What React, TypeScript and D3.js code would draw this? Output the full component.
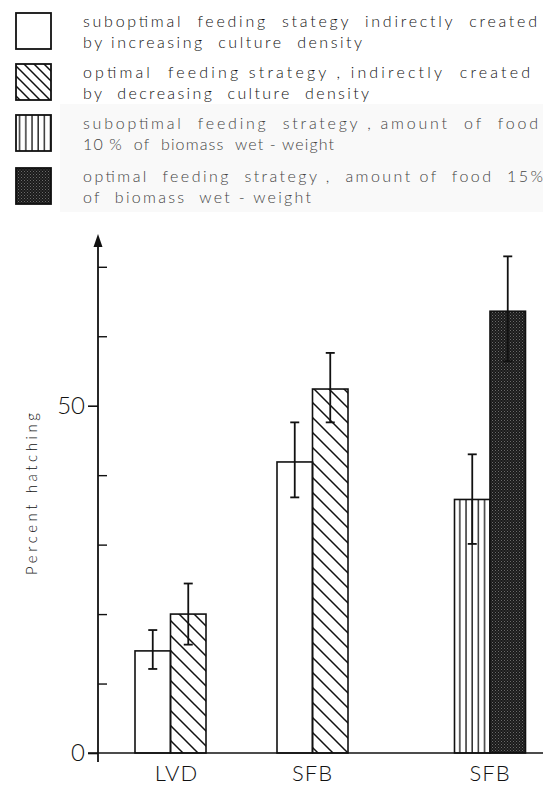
import React, { useEffect, useRef } from 'react';
import * as d3 from 'd3';

const W = 543;
const H = 787;

const categories = ['LVD', 'SFB', 'SFB'];
const firstKind = ['open', 'open', 'vertical'];
const secondKind = ['hatch', 'hatch', 'dark'];
const firstValue = [14.7, 41.9, 36.5];
const firstLow = [12.1, 36.8, 30.1];
const firstHigh = [17.7, 47.6, 43.0];
const secondValue = [20.0, 52.4, 63.6];
const secondLow = [15.6, 47.6, 56.4];
const secondHigh = [24.4, 57.6, 71.5];

const yLabeledTicks = [0, 50];
const yMinorTicks = [10, 20, 30, 40, 60, 70];
const yTitle = 'Percent hatching';

const legendKinds = ['open', 'hatch', 'vertical', 'dark'];
const legendLines = [
    ['suboptimal  feeding  stategy  indirectly  created', 'by increasing  culture  density'],
    ['optimal  feeding strategy , indirectly  created', 'by  decreasing  culture  density'],
    ['suboptimal  feeding  strategy , amount  of  food', '10 %  of  biomass  wet - weight'],
    ['optimal  feeding  strategy ,  amount of  food  15%', 'of  biomass  wet - weight'],
];

// layout
const AXIS_X = 98;
const GROUP_SLOT = [0, 4, 9]; // gaps between the groups, in bar widths
const LEGEND_TOP = [13, 64, 115, 168];
const LEGEND_WIDTHS = [[454, 279], [447, 286], [455, 251], [460, 228]];
const FONT = 'Lato, "DejaVu Sans", sans-serif';

const y = d3.scaleLinear().domain([0, 50]).range([753, 405.7]);
const slot = d3
    .scaleBand<number>()
    .domain(d3.range(11))
    .range([135, 525.5])
    .padding(0);

function fillFor(kind: string, legend = false) {
    if (kind === 'open') return '#fff';
    if (kind === 'hatch') return legend ? 'url(#hatchSmall)' : 'url(#hatch)';
    if (kind === 'vertical') return 'url(#vlines)';
    return 'url(#dots)';
}

function ErrorBar({ x, lo, hi }: { x: number; lo: number; hi: number }) {
    const cap = 4.5;
    return (
        <g stroke="#111" strokeWidth={1.8}>
            <line x1={x} x2={x} y1={y(lo)} y2={y(hi)} />
            <line x1={x - cap} x2={x + cap} y1={y(lo)} y2={y(lo)} />
            <line x1={x - cap} x2={x + cap} y1={y(hi)} y2={y(hi)} />
        </g>
    );
}

export default function App() {
    const axisRef = useRef<SVGGElement>(null);

    useEffect(() => {
        const g = d3.select(axisRef.current);
        g.selectAll('*').remove();

        const major = d3
            .axisLeft(y)
            .tickValues(yLabeledTicks)
            .tickSize(10)
            .tickPadding(3)
            .tickFormat(d3.format('d'));
        const minor = d3.axisRight(y).tickValues(yMinorTicks).tickSize(9).tickFormat(() => '');

        const gm = g.append('g').attr('transform', `translate(${AXIS_X},0)`).call(major);
        gm.select('.domain').remove();
        gm.selectAll('line').attr('stroke', '#111').attr('stroke-width', 1.6);
        gm.selectAll('text')
            .attr('font-family', FONT)
            .attr('font-weight', 300)
            .attr('font-size', 24)
            .attr('fill', '#111');

        const gn = g.append('g').attr('transform', `translate(${AXIS_X},0)`).call(minor);
        gn.select('.domain').remove();
        gn.selectAll('line').attr('stroke', '#111').attr('stroke-width', 1.4);

        // vertical axis with arrow
        g.append('line')
            .attr('x1', AXIS_X)
            .attr('x2', AXIS_X)
            .attr('y1', y(0) + 9)
            .attr('y2', y(73))
            .attr('stroke', '#111')
            .attr('stroke-width', 1.8);
        const tip = y(73) - 12;
        g.append('path')
            .attr('d', `M${AXIS_X},${tip}L${AXIS_X - 4.5},${tip + 13}L${AXIS_X + 4.5},${tip + 13}Z`)
            .attr('fill', '#111');

        // baseline
        g.append('line')
            .attr('x1', AXIS_X - 10)
            .attr('x2', W)
            .attr('y1', y(0))
            .attr('y2', y(0))
            .attr('stroke', '#111')
            .attr('stroke-width', 1.6);
    }, []);

    const bw = slot.bandwidth();

    return (
        <div style={{ position: 'absolute', left: 0, top: 0 }}>
            <svg width={W} height={H} style={{ display: 'block', background: '#fff' }}>
                <defs>
                    <pattern id="hatch" patternUnits="userSpaceOnUse" width={15} height={15}>
                        <path d="M-4,-4L19,19M-4,11L4,19M11,-4L19,4" stroke="#111" strokeWidth={1.5} />
                    </pattern>
                    <pattern id="hatchSmall" patternUnits="userSpaceOnUse" width={10} height={10}>
                        <path d="M-3,-3L13,13M-3,7L3,13M7,-3L13,3" stroke="#111" strokeWidth={1.5} />
                    </pattern>
                    <pattern id="vlines" patternUnits="userSpaceOnUse" width={6.2} height={10}>
                        <rect width={6.2} height={10} fill="#fff" />
                        <line x1={1} x2={1} y1={0} y2={10} stroke="#111" strokeWidth={1.3} />
                    </pattern>
                    <pattern id="dots" patternUnits="userSpaceOnUse" width={3} height={3}>
                        <rect width={3} height={3} fill="#1a1a1a" />
                        <rect x={0} y={0} width={1} height={1} fill="#6a6a6a" />
                        <rect x={1.5} y={1.5} width={1} height={1} fill="#555" />
                    </pattern>
                </defs>

                {/* legend */}
                <rect x={60} y={104} width={W - 60} height={108} fill="#f9f9f9" />
                {legendKinds.map((k, i) => (
                    <g key={k}>
                        <rect
                            x={16}
                            y={LEGEND_TOP[i]}
                            width={35}
                            height={36}
                            fill={fillFor(k, true)}
                            stroke="#111"
                            strokeWidth={1.8}
                        />
                        {legendLines[i].map((t, j) => (
                            <text
                                key={j}
                                x={83}
                                y={LEGEND_TOP[i] + 14 + j * 21}
                                fontFamily={FONT}
                                fontWeight={300}
                                fontSize={16}
                                fill={i < 2 ? '#111' : '#444'}
                                textLength={LEGEND_WIDTHS[i][j]}
                                lengthAdjust="spacing"
                                style={{ whiteSpace: 'pre' }}
                            >
                                {t}
                            </text>
                        ))}
                    </g>
                ))}

                {/* bars */}
                {categories.map((c, i) => {
                    const x0 = slot(GROUP_SLOT[i])!;
                    const x1 = slot(GROUP_SLOT[i] + 1)!;
                    return (
                        <g key={i}>
                            <rect
                                x={x0}
                                y={y(firstValue[i])}
                                width={bw}
                                height={y(0) - y(firstValue[i])}
                                fill={fillFor(firstKind[i])}
                                stroke="#111"
                                strokeWidth={1.6}
                            />
                            <rect
                                x={x1}
                                y={y(secondValue[i])}
                                width={bw}
                                height={y(0) - y(secondValue[i])}
                                fill={fillFor(secondKind[i])}
                                stroke="#111"
                                strokeWidth={1.6}
                            />
                            <ErrorBar x={x0 + bw / 2} lo={firstLow[i]} hi={firstHigh[i]} />
                            <ErrorBar x={x1 + bw / 2} lo={secondLow[i]} hi={secondHigh[i]} />
                            <text
                                x={x1 + (i === 0 ? 6 : 0)}
                                y={781}
                                textAnchor="middle"
                                fontFamily={FONT}
                                fontWeight={300}
                                fontSize={22}
                                fill="#111"
                                letterSpacing={1}
                            >
                                {c}
                            </text>
                        </g>
                    );
                })}

                <g ref={axisRef} />

                <text
                    transform={`translate(37,494) rotate(-90)`}
                    textAnchor="middle"
                    fontFamily={FONT}
                    fontWeight={300}
                    fontSize={15}
                    fill="#111"
                    textLength={162}
                    lengthAdjust="spacing"
                    style={{ whiteSpace: 'pre' }}
                >
                    {yTitle}
                </text>
            </svg>
        </div>
    );
}
